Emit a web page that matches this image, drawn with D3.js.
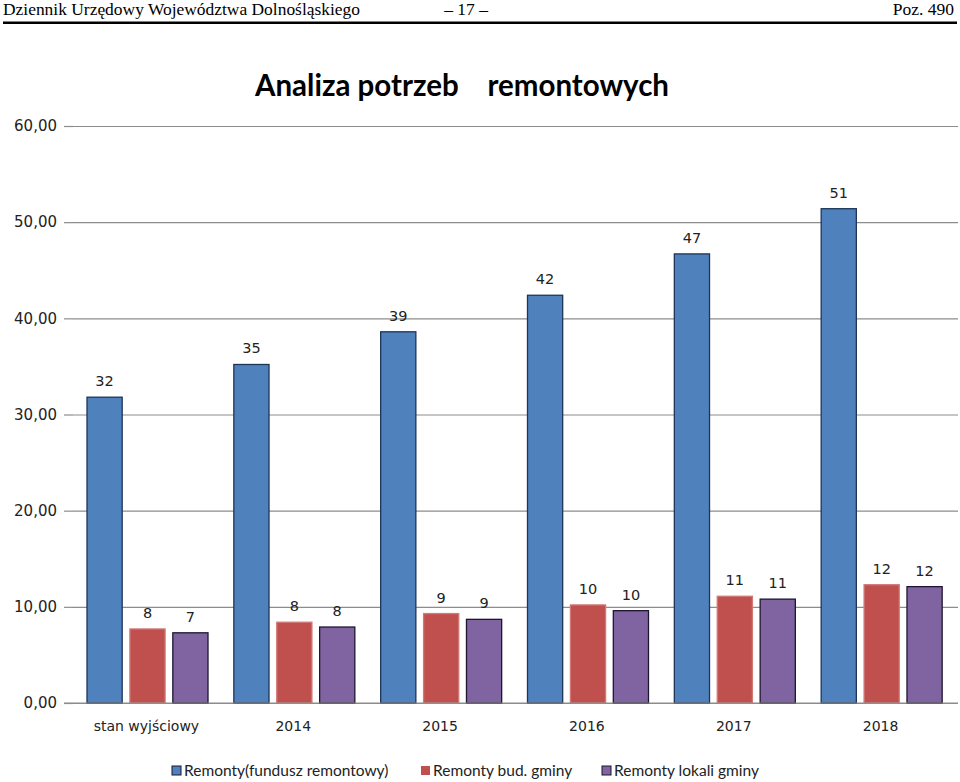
<!DOCTYPE html>
<html><head><meta charset="utf-8">
<script src="https://cdnjs.cloudflare.com/ajax/libs/d3/7.8.5/d3.min.js"></script>
<style>body{margin:0;background:#fff}svg{display:block}</style>
</head><body>
<script>
const categories = ["stan wyjściowy","2014","2015","2016","2017","2018"];
const seriesNames = ["Remonty(fundusz remontowy)","Remonty bud. gminy","Remonty lokali gminy"];
const fundusz = [31.8, 35.2, 38.6, 42.4, 46.7, 51.4];
const budynki = [7.7, 8.4, 9.3, 10.2, 11.1, 12.3];
const lokale  = [7.3, 7.9, 8.7, 9.6, 10.8, 12.1];
const yTicks = [0,10,20,30,40,50,60];
const colors = ["#4F81BD","#C0504D","#8064A2"];
const strokes = ["#1d3557","#d07a78","#1e1530"];

const W=960,H=782;
const svg=d3.select("body").append("svg").attr("width",W).attr("height",H);

// header
const hf="'Liberation Serif','Times New Roman',serif";
svg.append("text").attr("x",3).attr("y",15).attr("font-family",hf).attr("font-size",17.5).attr("textLength",357).attr("lengthAdjust","spacingAndGlyphs").text("Dziennik Urzędowy Województwa Dolnośląskiego");
svg.append("text").attr("x",466).attr("y",15).attr("text-anchor","middle").attr("font-family",hf).attr("font-size",17.5).text("– 17 –");
svg.append("text").attr("x",954).attr("y",15).attr("text-anchor","end").attr("font-family",hf).attr("font-size",17.5).text("Poz. 490");
svg.append("rect").attr("x",3).attr("y",21.5).attr("width",954).attr("height",2.5).attr("fill","#000");

// title
svg.append("text").attr("x",462).attr("y",96).attr("text-anchor","middle")
  .attr("font-family","Lato,'Open Sans',sans-serif").attr("font-weight","bold").attr("font-size",29.5)
  .attr("xml:space","preserve").style("white-space","pre").text("Analiza potrzeb    remontowych");

const x0=73,x1=958,yTop=126,yBot=703;
const y=d3.scaleLinear().domain([0,60]).range([yBot,yTop]);
const xb=d3.scaleBand().domain(categories).range([x0,954]).paddingInner(0).paddingOuter(0);
const xs=d3.scaleBand().domain([0,1,2]).range([14,135]).paddingInner(0.18).paddingOuter(0);

// grid + y axis
const yAxis=d3.axisLeft(y).tickValues(yTicks).tickSize(-(x1-x0)).tickPadding(16)
  .tickFormat(d=>d3.format(".2f")(d).replace(".",","));
const ga=svg.append("g").attr("transform",`translate(${x0},0)`).call(yAxis);
ga.select(".domain").remove();
ga.selectAll(".tick line").attr("stroke","#8c8c8c").attr("stroke-width",1.2);
ga.selectAll(".tick text").attr("font-family","'DejaVu Sans',Verdana,sans-serif").attr("font-size",15).attr("fill","#222");
ga.selectAll(".tick").append("line").attr("x1",-9).attr("x2",0).attr("stroke","#8c8c8c").attr("stroke-width",1.2);

// bars
const series=[fundusz,budynki,lokale];
const groups=svg.append("g");
series.forEach((vals,si)=>{
  groups.selectAll(null).data(vals).enter().append("rect")
    .attr("x",(d,i)=>xb(categories[i])+xs(si))
    .attr("y",d=>y(d))
    .attr("width",xs.bandwidth())
    .attr("height",d=>yBot-y(d))
    .attr("fill",colors[si]).attr("stroke",strokes[si]).attr("stroke-width",1.3);
  groups.selectAll(null).data(vals).enter().append("text")
    .attr("x",(d,i)=>xb(categories[i])+xs(si)+xs.bandwidth()/2)
    .attr("y",d=>y(d)-11)
    .attr("text-anchor","middle")
    .attr("font-family","'DejaVu Sans',Verdana,sans-serif").attr("font-size",14.5).attr("fill","#222")
    .text(d=>Math.round(d));
});
svg.append("line").attr("x1",x0-9).attr("x2",x1).attr("y1",yBot).attr("y2",yBot).attr("stroke","#8c8c8c").attr("stroke-width",1.2);

// x labels
svg.append("g").selectAll("text").data(categories).enter().append("text")
  .attr("x",d=>xb(d)+xb.bandwidth()/2).attr("y",731).attr("text-anchor","middle")
  .attr("font-family","'DejaVu Sans',Verdana,sans-serif").attr("font-size",14).attr("fill","#222").text(d=>d);

// legend
const lx=[172,421,602];
const lg=svg.append("g");
seriesNames.forEach((n,i)=>{
  lg.append("rect").attr("x",lx[i]).attr("y",766).attr("width",9).attr("height",9)
    .attr("fill",colors[i]).attr("stroke",i==1?"none":"#1e1530").attr("stroke-width",1);
  lg.append("text").attr("x",lx[i]+12).attr("y",776)
    .attr("font-family","Lato,'Open Sans',sans-serif").attr("font-size",15.5).attr("fill","#222").text(n);
});
</script>
</body></html>
